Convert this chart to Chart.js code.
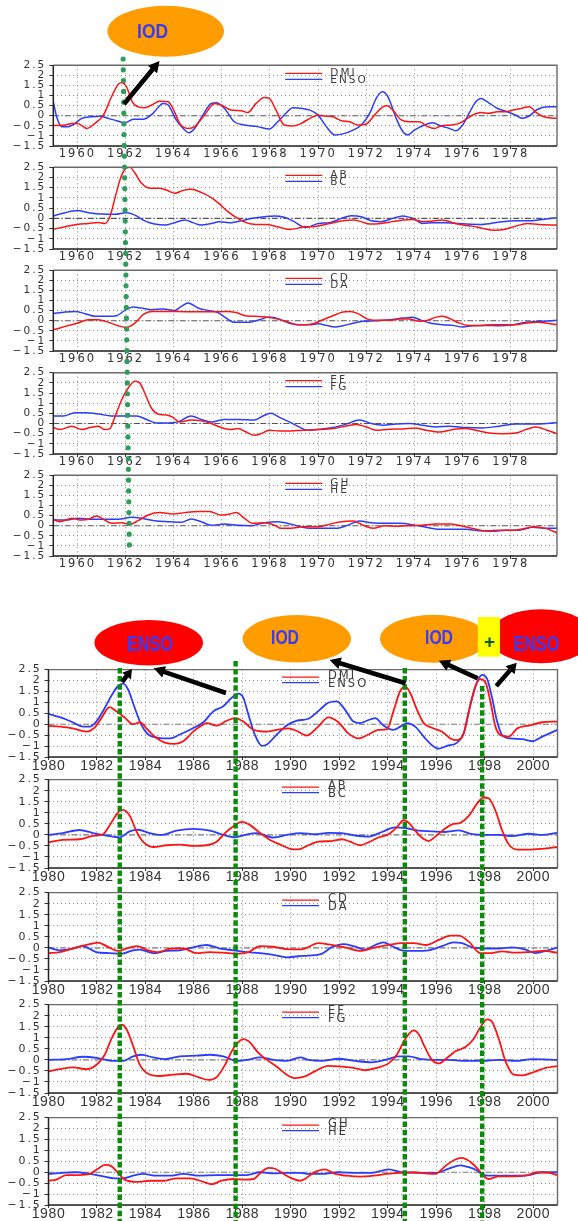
<!DOCTYPE html>
<html><head><meta charset="utf-8">
<script src="https://cdn.jsdelivr.net/npm/chart.js@4.4.1/dist/chart.umd.min.js"></script>
<style>
html,body{margin:0;padding:0;background:#fff;}
#fig{position:relative;width:578px;height:1221px;overflow:hidden;background:#fff;}
.pnl{position:absolute;left:0;width:578px;}
.pnl canvas{display:block;}
#ann{position:absolute;left:0;top:0;width:578px;height:1221px;pointer-events:none;}
</style></head>
<body><div id="fig"></div>
<script>
// ---------------- DATA: 1959-1979 (upper block) ----------------
const DMI_A = [[1959.0,-0.49],[1959.5,-0.46],[1959.77,-0.38],[1960.0,-0.38],[1960.4,-0.63],[1960.73,-0.38],[1961.08,0.03],[1961.42,0.94],[1961.7,1.56],[1961.86,1.63],[1962.04,1.43],[1962.28,0.69],[1962.52,0.44],[1962.8,0.40],[1963.08,0.53],[1963.42,0.72],[1963.77,0.69],[1964.0,0.28],[1964.25,-0.38],[1964.6,-0.63],[1964.87,-0.54],[1965.28,0.03],[1965.7,0.61],[1965.97,0.53],[1966.39,0.28],[1966.8,0.25],[1967.08,0.16],[1967.42,0.61],[1967.77,0.90],[1967.97,0.86],[1968.25,0.28],[1968.59,-0.46],[1968.94,-0.51],[1969.3,-0.38],[1969.66,-0.13],[1970.0,0.03],[1970.34,-0.02],[1970.62,-0.05],[1970.97,-0.25],[1971.31,-0.30],[1971.66,-0.46],[1972.0,-0.41],[1972.34,0.03],[1972.69,0.44],[1972.86,0.49],[1973.1,0.28],[1973.45,-0.21],[1973.79,-0.30],[1974.2,-0.30],[1974.55,-0.54],[1974.83,-0.63],[1975.1,-0.51],[1975.52,-0.46],[1975.86,-0.38],[1976.14,-0.18],[1976.41,0.03],[1976.76,0.16],[1977.1,0.12],[1977.45,0.20],[1977.79,0.20],[1978.1,0.28],[1978.41,0.36],[1978.76,0.44],[1979.1,0.12],[1979.45,-0.08],[1979.92,-0.13]];
const ENSO_A = [[1959.0,0.69],[1959.14,-0.05],[1959.35,-0.54],[1959.63,-0.54],[1959.9,-0.38],[1960.18,-0.13],[1960.6,-0.05],[1960.94,-0.02],[1961.28,-0.13],[1961.63,-0.25],[1961.97,-0.35],[1962.32,-0.18],[1962.73,-0.18],[1963.14,0.12],[1963.56,0.61],[1963.77,0.53],[1964.11,-0.21],[1964.46,-0.71],[1964.62,-0.84],[1964.87,-0.63],[1965.21,0.03],[1965.56,0.61],[1965.77,0.64],[1966.11,0.36],[1966.52,-0.30],[1966.94,-0.46],[1967.49,-0.54],[1967.97,-0.66],[1968.32,-0.30],[1968.66,0.12],[1968.94,0.40],[1969.35,0.36],[1969.66,0.28],[1970.0,0.03],[1970.34,-0.54],[1970.69,-0.95],[1971.03,-0.90],[1971.45,-0.71],[1971.79,-0.46],[1972.14,0.12],[1972.41,0.86],[1972.66,1.19],[1972.9,0.94],[1973.24,-0.13],[1973.52,-0.79],[1973.72,-0.95],[1974.0,-0.71],[1974.41,-0.46],[1974.76,-0.35],[1975.1,-0.51],[1975.45,-0.63],[1975.72,-0.74],[1976.0,-0.46],[1976.28,0.15],[1976.55,0.69],[1976.76,0.86],[1977.03,0.69],[1977.45,0.36],[1977.86,0.20],[1978.21,0.03],[1978.48,-0.13],[1978.76,-0.02],[1979.1,0.31],[1979.52,0.44],[1979.92,0.44]];
const AB_A = [[1959.0,-0.53],[1959.5,-0.41],[1960.0,-0.30],[1960.46,-0.25],[1960.87,-0.20],[1961.14,-0.25],[1961.35,0.08],[1961.56,0.99],[1961.77,1.89],[1961.97,2.39],[1962.18,2.50],[1962.39,2.22],[1962.66,1.73],[1963.01,1.48],[1963.42,1.48],[1963.77,1.35],[1964.04,1.23],[1964.39,1.37],[1964.73,1.43],[1965.14,1.27],[1965.56,1.02],[1965.9,0.71],[1966.25,0.33],[1966.66,0.0],[1967.01,-0.21],[1967.42,-0.30],[1967.83,-0.30],[1968.32,-0.41],[1968.8,-0.54],[1969.14,-0.49],[1969.42,-0.40],[1969.79,-0.41],[1970.2,-0.33],[1970.62,-0.21],[1971.03,-0.12],[1971.45,-0.08],[1971.79,-0.16],[1972.14,-0.28],[1972.62,-0.25],[1973.1,-0.16],[1973.52,-0.08],[1973.93,-0.05],[1974.34,-0.16],[1974.76,-0.13],[1975.17,-0.08],[1975.59,-0.21],[1976.0,-0.33],[1976.41,-0.38],[1976.83,-0.49],[1977.31,-0.58],[1977.72,-0.54],[1978.21,-0.38],[1978.69,-0.25],[1979.17,-0.30],[1979.92,-0.33]];
const BC_A = [[1959.0,0.12],[1959.5,0.28],[1960.0,0.38],[1960.46,0.28],[1961.01,0.21],[1961.56,0.20],[1962.04,0.28],[1962.39,0.16],[1962.8,-0.12],[1963.21,-0.28],[1963.63,-0.33],[1964.04,-0.21],[1964.46,-0.08],[1964.8,-0.21],[1965.14,-0.33],[1965.56,-0.25],[1965.9,-0.16],[1966.39,-0.21],[1966.8,-0.12],[1967.28,0.0],[1967.77,0.08],[1968.18,0.12],[1968.59,0.05],[1969.0,-0.16],[1969.35,-0.41],[1969.52,-0.44],[1970.0,-0.25],[1970.48,-0.21],[1970.97,0.0],[1971.38,0.13],[1971.79,0.08],[1972.21,-0.12],[1972.62,-0.16],[1973.1,0.0],[1973.52,0.12],[1973.93,0.0],[1974.34,-0.25],[1974.76,-0.21],[1975.24,-0.21],[1975.72,-0.25],[1976.14,-0.28],[1976.69,-0.30],[1977.17,-0.25],[1977.66,-0.16],[1978.21,-0.12],[1978.76,-0.12],[1979.31,-0.05],[1979.92,0.03]];
const CD_A = [[1959.0,-0.45],[1959.5,-0.28],[1960.0,-0.12],[1960.46,0.05],[1960.87,0.05],[1961.28,-0.08],[1961.7,-0.25],[1962.04,-0.33],[1962.39,-0.12],[1962.73,0.30],[1963.08,0.46],[1963.63,0.46],[1964.18,0.46],[1964.87,0.44],[1965.56,0.44],[1966.18,0.46],[1966.59,0.41],[1966.94,0.26],[1967.35,0.22],[1967.83,0.18],[1968.32,0.08],[1968.8,-0.08],[1969.14,-0.20],[1969.38,-0.20],[1969.79,-0.15],[1970.2,0.05],[1970.62,0.25],[1971.03,0.43],[1971.31,0.46],[1971.66,0.35],[1972.07,0.08],[1972.55,0.02],[1972.97,0.02],[1973.38,0.08],[1973.79,0.08],[1974.2,-0.03],[1974.55,0.02],[1974.9,0.18],[1975.17,0.22],[1975.52,0.08],[1975.86,-0.12],[1976.28,-0.23],[1976.76,-0.23],[1977.24,-0.20],[1977.66,-0.20],[1978.1,-0.20],[1978.62,-0.12],[1979.1,-0.08],[1979.52,-0.12],[1979.92,-0.20]];
const DA_A = [[1959.0,0.35],[1959.5,0.43],[1959.9,0.46],[1960.32,0.35],[1960.73,0.22],[1961.28,0.22],[1961.63,0.25],[1961.97,0.51],[1962.32,0.68],[1962.66,0.63],[1963.08,0.55],[1963.56,0.58],[1964.04,0.51],[1964.32,0.71],[1964.6,0.88],[1965.01,0.63],[1965.42,0.51],[1965.83,0.41],[1966.18,0.13],[1966.52,-0.08],[1967.08,-0.08],[1967.56,0.05],[1967.97,0.18],[1968.39,0.08],[1968.8,-0.12],[1969.28,-0.20],[1969.66,-0.20],[1970.0,-0.15],[1970.34,-0.23],[1970.69,-0.31],[1971.03,-0.25],[1971.45,-0.12],[1971.86,-0.03],[1972.41,0.0],[1972.97,0.05],[1973.52,0.13],[1973.93,0.17],[1974.28,0.02],[1974.69,-0.12],[1975.17,-0.20],[1975.59,-0.23],[1976.0,-0.31],[1976.41,-0.25],[1976.97,-0.23],[1977.52,-0.25],[1978.1,-0.20],[1978.62,-0.08],[1979.17,-0.03],[1979.92,0.02]];
const EF_A = [[1959.0,-0.20],[1959.28,-0.30],[1959.77,-0.13],[1960.18,-0.30],[1960.52,-0.20],[1960.87,-0.13],[1961.14,-0.30],[1961.35,-0.25],[1961.56,0.33],[1961.84,1.17],[1962.11,1.75],[1962.39,2.08],[1962.59,2.0],[1962.8,1.50],[1963.08,0.75],[1963.35,0.47],[1963.7,0.42],[1963.97,0.30],[1964.25,0.08],[1964.73,0.17],[1965.14,0.13],[1965.56,0.0],[1965.97,-0.20],[1966.39,-0.30],[1966.66,-0.25],[1967.01,-0.42],[1967.35,-0.58],[1967.63,-0.50],[1967.97,-0.33],[1968.39,-0.37],[1968.87,-0.37],[1969.35,-0.33],[1969.93,-0.30],[1970.62,-0.25],[1971.17,-0.12],[1971.59,-0.05],[1972.0,-0.17],[1972.41,-0.33],[1972.97,-0.28],[1973.52,-0.27],[1974.0,-0.22],[1974.48,-0.33],[1975.03,-0.42],[1975.59,-0.30],[1976.07,-0.25],[1976.55,-0.33],[1977.1,-0.47],[1977.66,-0.50],[1978.21,-0.47],[1978.62,-0.30],[1979.03,-0.17],[1979.52,-0.33],[1979.92,-0.50]];
const FG_A = [[1959.0,0.37],[1959.42,0.37],[1959.9,0.53],[1960.32,0.53],[1960.87,0.47],[1961.42,0.37],[1961.97,0.37],[1962.46,0.37],[1962.87,0.20],[1963.28,0.03],[1963.77,0.03],[1964.18,0.08],[1964.73,0.37],[1965.14,0.20],[1965.56,0.08],[1966.11,0.20],[1966.66,0.20],[1967.35,0.17],[1967.7,0.37],[1968.04,0.50],[1968.39,0.30],[1968.8,0.08],[1969.35,-0.25],[1969.52,-0.33],[1970.0,-0.30],[1970.62,-0.20],[1971.17,-0.03],[1971.72,0.17],[1972.21,0.0],[1972.69,-0.08],[1973.24,-0.03],[1973.79,0.0],[1974.34,-0.08],[1974.9,-0.17],[1975.45,-0.13],[1976.14,-0.20],[1976.83,-0.22],[1977.52,-0.13],[1978.21,-0.03],[1978.9,-0.03],[1979.52,0.0],[1979.92,0.05]];
const GH_A = [[1959.0,0.32],[1959.28,0.20],[1959.77,0.37],[1960.18,0.28],[1960.46,0.32],[1960.8,0.48],[1961.08,0.32],[1961.42,0.12],[1961.84,0.15],[1962.18,0.07],[1962.52,0.25],[1962.94,0.53],[1963.42,0.65],[1963.97,0.58],[1964.46,0.65],[1965.01,0.70],[1965.49,0.70],[1965.97,0.53],[1966.32,0.58],[1966.59,0.65],[1966.94,0.37],[1967.28,0.12],[1967.77,0.15],[1968.18,0.03],[1968.46,-0.13],[1968.87,-0.13],[1969.35,-0.05],[1970.0,-0.05],[1970.48,0.08],[1970.97,0.20],[1971.45,0.23],[1971.86,0.03],[1972.28,-0.13],[1972.76,0.0],[1973.31,-0.02],[1973.79,0.0],[1974.28,0.03],[1974.9,0.08],[1975.45,0.08],[1975.93,0.0],[1976.41,-0.13],[1976.97,-0.25],[1977.52,-0.22],[1978.1,-0.22],[1978.62,-0.13],[1978.97,-0.05],[1979.45,-0.13],[1979.92,-0.35]];
const HE_A = [[1959.0,0.28],[1959.5,0.28],[1960.04,0.37],[1960.6,0.32],[1961.14,0.32],[1961.7,0.32],[1962.25,0.42],[1962.66,0.37],[1963.21,0.25],[1963.77,0.20],[1964.32,0.17],[1964.73,0.33],[1965.14,0.20],[1965.56,0.03],[1966.11,0.08],[1966.66,0.02],[1967.21,0.0],[1967.77,0.15],[1968.32,0.20],[1968.87,0.08],[1969.35,-0.08],[1969.66,-0.13],[1970.2,-0.13],[1970.76,-0.13],[1971.24,0.03],[1971.72,0.23],[1972.21,0.15],[1972.76,0.12],[1973.38,0.12],[1974.0,0.03],[1974.48,-0.08],[1975.03,-0.18],[1975.59,-0.17],[1976.14,-0.18],[1976.69,-0.25],[1977.24,-0.27],[1977.79,-0.22],[1978.34,-0.22],[1978.9,-0.08],[1979.45,-0.13],[1979.92,-0.13]];

// ---------------- DATA: 1980-2001 (lower block) ----------------
const DMI_B = [[1980.0,-0.08],[1980.46,-0.11],[1981.0,-0.19],[1981.56,-0.34],[1981.9,-0.16],[1982.18,0.28],[1982.52,0.78],[1982.8,0.59],[1983.14,0.31],[1983.49,0.0],[1983.77,0.09],[1984.04,-0.19],[1984.39,-0.57],[1984.8,-0.84],[1985.21,-0.90],[1985.56,-0.78],[1985.97,-0.34],[1986.32,-0.06],[1986.52,0.05],[1986.94,-0.06],[1987.35,0.16],[1987.7,0.28],[1988.04,0.12],[1988.46,-0.26],[1989.01,-0.34],[1989.42,-0.26],[1989.9,-0.19],[1990.25,-0.31],[1990.65,-0.52],[1991.13,-0.11],[1991.54,0.31],[1991.96,0.09],[1992.37,-0.42],[1992.79,-0.65],[1993.2,-0.47],[1993.61,-0.26],[1993.97,-0.22],[1994.23,0.59],[1994.51,1.52],[1994.72,1.72],[1994.92,1.44],[1995.2,0.67],[1995.48,0.05],[1995.82,-0.16],[1996.24,-0.34],[1996.58,-0.65],[1996.86,-0.73],[1997.13,-0.42],[1997.34,0.59],[1997.61,1.75],[1997.82,2.06],[1998.03,1.91],[1998.23,1.05],[1998.44,-0.11],[1998.65,-0.50],[1998.99,-0.57],[1999.34,-0.19],[1999.82,-0.06],[2000.37,0.09],[2001.0,0.12]];
const ENSO_B = [[1980.0,0.47],[1980.59,0.28],[1981.0,0.09],[1981.42,-0.11],[1981.7,-0.11],[1981.97,0.12],[1982.32,0.74],[1982.59,1.29],[1982.87,1.75],[1983.08,1.86],[1983.28,1.60],[1983.56,0.74],[1983.83,-0.03],[1984.11,-0.47],[1984.52,-0.62],[1985.01,-0.65],[1985.42,-0.47],[1985.9,-0.22],[1986.39,0.09],[1986.8,0.59],[1987.21,0.82],[1987.56,1.21],[1987.83,1.40],[1988.04,1.21],[1988.25,0.43],[1988.52,-0.50],[1988.8,-0.99],[1989.01,-0.93],[1989.42,-0.47],[1989.83,-0.06],[1990.25,0.16],[1990.72,0.25],[1991.2,0.67],[1991.54,0.98],[1991.89,1.05],[1992.23,0.67],[1992.58,0.12],[1992.86,0.05],[1993.13,0.16],[1993.48,0.28],[1993.82,-0.06],[1994.23,-0.26],[1994.51,-0.11],[1994.79,0.05],[1995.13,-0.11],[1995.48,-0.57],[1995.82,-0.96],[1996.1,-1.12],[1996.44,-0.99],[1996.86,-0.84],[1997.13,-0.42],[1997.41,0.90],[1997.68,1.91],[1997.89,2.26],[1998.1,2.06],[1998.3,1.21],[1998.51,0.12],[1998.72,-0.50],[1999.06,-0.65],[1999.54,-0.68],[1999.96,-0.78],[2000.37,-0.57],[2001.0,-0.26]];
const AB_B = [[1980.0,-0.34],[1980.59,-0.23],[1981.28,-0.20],[1981.83,-0.05],[1982.25,0.03],[1982.59,0.55],[1982.87,1.02],[1983.08,1.13],[1983.35,0.86],[1983.63,0.16],[1983.9,-0.31],[1984.32,-0.55],[1984.87,-0.47],[1985.42,-0.44],[1985.97,-0.50],[1986.52,-0.47],[1986.94,-0.31],[1987.28,0.08],[1987.63,0.39],[1987.97,0.59],[1988.32,0.44],[1988.73,0.08],[1989.14,-0.23],[1989.56,-0.44],[1989.97,-0.63],[1990.3,-0.66],[1990.72,-0.47],[1991.13,-0.31],[1991.68,-0.28],[1992.1,-0.20],[1992.44,-0.31],[1992.86,-0.47],[1993.2,-0.34],[1993.61,-0.12],[1994.03,0.03],[1994.37,0.34],[1994.65,0.66],[1994.86,0.55],[1995.13,0.19],[1995.48,-0.19],[1995.68,-0.28],[1995.96,-0.08],[1996.3,0.23],[1996.65,0.47],[1997.0,0.55],[1997.34,0.86],[1997.68,1.41],[1997.96,1.69],[1998.17,1.64],[1998.44,1.09],[1998.72,0.19],[1998.99,-0.44],[1999.34,-0.67],[1999.82,-0.67],[2000.37,-0.63],[2001.0,-0.55]];
const BC_B = [[1980.0,0.0],[1980.59,0.08],[1981.28,0.22],[1981.83,0.08],[1982.39,-0.03],[1982.94,-0.11],[1983.35,0.16],[1983.7,0.23],[1984.18,0.08],[1984.66,0.0],[1985.28,0.19],[1985.97,0.27],[1986.66,0.19],[1987.21,0.0],[1987.7,-0.11],[1988.11,0.0],[1988.59,0.08],[1989.28,-0.12],[1989.83,0.0],[1990.39,0.08],[1990.99,0.03],[1991.54,0.09],[1992.1,0.08],[1992.65,-0.03],[1993.2,-0.08],[1993.75,0.13],[1994.3,0.34],[1994.72,0.31],[1995.27,0.19],[1995.82,0.16],[1996.37,0.13],[1996.92,0.20],[1997.48,0.03],[1998.03,0.0],[1998.58,0.0],[1999.13,-0.06],[1999.82,0.05],[2000.37,0.0],[2001.0,0.09]];
const CD_B = [[1980.0,-0.24],[1980.46,-0.19],[1981.0,-0.03],[1981.56,0.13],[1982.04,0.24],[1982.39,0.08],[1982.87,-0.14],[1983.21,-0.03],[1983.63,0.08],[1984.11,-0.11],[1984.52,-0.19],[1985.08,-0.03],[1985.56,-0.03],[1986.11,-0.24],[1986.66,-0.19],[1987.21,-0.22],[1987.77,-0.27],[1988.25,-0.19],[1988.73,0.08],[1989.28,0.05],[1989.83,-0.06],[1990.3,-0.07],[1990.58,-0.03],[1991.13,0.21],[1991.68,0.13],[1992.23,0.02],[1992.86,-0.14],[1993.48,0.02],[1994.03,0.13],[1994.58,0.21],[1995.06,0.21],[1995.61,0.13],[1996.1,0.36],[1996.58,0.55],[1996.92,0.55],[1997.34,0.28],[1997.82,-0.24],[1998.17,-0.24],[1998.72,-0.16],[1999.27,-0.22],[1999.82,-0.19],[2000.37,-0.14],[2001.0,-0.22]];
const DA_B = [[1980.0,0.02],[1980.46,-0.11],[1981.0,-0.03],[1981.42,0.08],[1981.97,-0.19],[1982.52,-0.24],[1983.01,-0.27],[1983.49,-0.11],[1983.77,-0.08],[1984.32,-0.24],[1984.87,-0.14],[1985.42,-0.11],[1985.97,0.02],[1986.52,0.13],[1987.08,-0.03],[1987.63,-0.11],[1988.18,-0.19],[1988.73,-0.24],[1989.28,-0.32],[1989.83,-0.43],[1990.3,-0.38],[1990.72,-0.35],[1991.27,-0.27],[1991.68,0.02],[1992.17,0.17],[1992.58,0.08],[1993.06,-0.08],[1993.48,0.13],[1993.82,0.25],[1994.17,0.08],[1994.58,-0.11],[1995.13,-0.14],[1995.68,-0.11],[1996.24,0.08],[1996.72,0.25],[1997.06,0.21],[1997.48,0.02],[1998.03,-0.03],[1998.58,-0.03],[1999.13,0.02],[1999.68,-0.08],[2000.1,-0.24],[2000.51,-0.14],[2001.0,0.02]];
const EF_B = [[1980.0,-0.52],[1980.46,-0.42],[1981.0,-0.34],[1981.56,-0.42],[1981.97,-0.23],[1982.32,0.23],[1982.59,0.94],[1982.87,1.48],[1983.01,1.59],[1983.21,1.41],[1983.49,0.63],[1983.77,-0.23],[1984.11,-0.63],[1984.59,-0.73],[1985.14,-0.67],[1985.7,-0.63],[1986.18,-0.78],[1986.59,-0.91],[1986.94,-0.78],[1987.28,-0.23],[1987.56,0.39],[1987.77,0.73],[1988.04,0.94],[1988.32,0.78],[1988.66,0.31],[1989.01,0.0],[1989.42,-0.31],[1989.83,-0.67],[1990.18,-0.83],[1990.58,-0.75],[1990.99,-0.52],[1991.54,-0.27],[1992.1,-0.31],[1992.58,-0.36],[1993.06,-0.47],[1993.54,-0.36],[1994.03,-0.16],[1994.37,0.23],[1994.72,0.94],[1995.06,1.33],[1995.27,1.17],[1995.54,0.55],[1995.82,0.0],[1996.1,-0.16],[1996.44,0.08],[1996.79,0.39],[1997.2,0.58],[1997.54,0.94],[1997.82,1.48],[1998.1,1.83],[1998.3,1.72],[1998.58,0.94],[1998.86,-0.08],[1999.2,-0.67],[1999.54,-0.70],[2000.03,-0.55],[2000.51,-0.36],[2001.0,-0.28]];
const FG_B = [[1980.0,0.0],[1980.73,0.03],[1981.42,0.14],[1982.04,0.08],[1982.66,-0.05],[1983.08,-0.05],[1983.49,0.16],[1983.83,0.23],[1984.32,0.11],[1984.8,0.03],[1985.42,0.16],[1986.11,0.19],[1986.66,0.23],[1987.21,0.16],[1987.77,-0.05],[1988.18,0.0],[1988.73,0.11],[1989.28,0.0],[1989.83,-0.05],[1990.39,0.11],[1990.72,0.0],[1991.27,-0.05],[1991.96,0.05],[1992.65,-0.05],[1993.34,-0.11],[1993.89,0.0],[1994.44,0.16],[1994.86,0.16],[1995.41,0.03],[1995.96,0.0],[1996.51,0.0],[1997.2,-0.05],[1997.89,-0.05],[1998.58,0.0],[1999.27,-0.05],[1999.96,0.03],[2001.0,0.0]];
const GH_B = [[1980.0,-0.39],[1980.32,-0.34],[1980.73,-0.13],[1981.28,-0.13],[1981.7,-0.08],[1982.04,0.16],[1982.32,0.34],[1982.59,0.28],[1982.87,-0.03],[1983.14,-0.34],[1983.63,-0.44],[1984.18,-0.39],[1984.73,-0.39],[1985.28,-0.28],[1985.83,-0.28],[1986.39,-0.44],[1986.73,-0.55],[1987.14,-0.39],[1987.63,-0.31],[1988.11,-0.34],[1988.46,-0.31],[1988.8,0.03],[1989.08,0.20],[1989.35,0.16],[1989.7,-0.08],[1990.04,-0.28],[1990.39,-0.39],[1990.6,-0.30],[1990.92,-0.03],[1991.41,0.13],[1991.82,-0.08],[1992.3,-0.16],[1992.86,-0.20],[1993.41,-0.16],[1993.96,-0.08],[1994.51,-0.03],[1995.06,0.0],[1995.54,-0.05],[1995.96,-0.08],[1996.37,0.28],[1996.72,0.55],[1997.06,0.66],[1997.41,0.47],[1997.68,0.19],[1997.89,-0.08],[1998.17,-0.31],[1998.58,-0.19],[1999.13,-0.19],[1999.68,-0.16],[2000.17,0.0],[2000.65,-0.03],[2001.0,-0.13]];
const HE_B = [[1980.0,-0.08],[1980.59,-0.03],[1981.14,0.0],[1981.7,-0.08],[1982.25,-0.19],[1982.73,-0.28],[1983.08,-0.28],[1983.49,-0.16],[1983.9,-0.08],[1984.46,-0.16],[1985.01,-0.16],[1985.56,-0.08],[1986.25,-0.16],[1986.94,-0.13],[1987.63,-0.13],[1988.18,-0.13],[1988.73,0.0],[1989.28,-0.05],[1989.83,-0.03],[1990.39,-0.03],[1990.72,-0.08],[1991.27,-0.08],[1991.96,0.0],[1992.65,-0.03],[1993.34,-0.03],[1994.03,0.13],[1994.58,0.0],[1995.27,-0.03],[1995.96,-0.03],[1996.51,0.16],[1996.99,0.31],[1997.34,0.23],[1997.68,0.08],[1997.96,-0.13],[1998.44,-0.16],[1999.13,-0.16],[1999.82,-0.13],[2000.37,0.0],[2001.0,0.0]];

// ---------------- labels / ticks ----------------
const seriesNames = [["DMI","ENSO"],["AB","BC"],["CD","DA"],["EF","FG"],["GH","HE"]];
const topSeries = [[DMI_A,ENSO_A],[AB_A,BC_A],[CD_A,DA_A],[EF_A,FG_A],[GH_A,HE_A]];
const botSeries = [[DMI_B,ENSO_B],[AB_B,BC_B],[CD_B,DA_B],[EF_B,FG_B],[GH_B,HE_B]];
const topYearTicks = [1960,1962,1964,1966,1968,1970,1972,1974,1976,1978];
const botYearTicks = [1980,1982,1984,1986,1988,1990,1992,1994,1996,1998,2000];
const yTickValues = [-1.5,-1,-0.5,0,0.5,1,1.5,2,2.5];
const topRange = [1959, 1979.92];
const botRange = [1980, 2001];
const topEvent = [1961.9, 1962.16];            // slanted dotted marker (top, bottom)
const botEvents = [1982.94, 1987.72, 1994.7, 1997.89];
const bubbleTexts = ["IOD","ENSO","IOD","IOD","ENSO"];

// ---------------- styling / layout ----------------
const RED = '#ff1414', BLUE = '#2b3cff', GRID = '#8c8c8c';
const TOP_CFG = {tops:[65,167.3,270,372.7,475], h:81, left:53.3, right:557, range:topRange, years:topYearTicks, labH:20,
  xFont:{family:'"DejaVu Sans"', size:11.5, lineHeight:1}, yFont:{family:'"DejaVu Sans"', size:10.5}, xLS:'2px', yLS:'2px', xPad:-0.5, yPad:3,
  lw:1.5, lgFont:'10.5px "DejaVu Sans"', lgLS:'2px', lg:{x0:232, len:37, tx:277, ly:[8,14], ty:[7.5,14.5]}, zero:'#555'};
const BOT_CFG = {tops:[669,779.5,892.5,1004.5,1117], h:88, left:48.5, right:557.5, range:botRange, years:botYearTicks, labH:20,
  xFont:{family:'"Liberation Sans Narrow","Liberation Sans"', size:14, lineHeight:1}, yFont:{family:'"DejaVu Sans"', size:11}, xLS:'0.6px', yLS:'1.8px', xPad:-1, yPad:3,
  lw:1.8, lgFont:'11.5px "DejaVu Sans"', lgLS:'2px', lg:{x0:233.5, len:37, tx:279.5, ly:[7.5,13], ty:[6.5,14.5]}, zero:'#777'};

const fig = document.getElementById('fig');
const fmtY = v => v < 0 ? '\u2212' + String(Math.abs(v)) : String(v);

function makePanel(cfg, idx, pair, names){
  const T = cfg.tops[idx];
  const divTop = Math.floor(T) - 9;
  const padTop = T - divTop;
  const H = Math.ceil(padTop + cfg.h + cfg.labH);
  const div = document.createElement('div');
  div.className = 'pnl'; div.style.top = divTop + 'px'; div.style.height = H + 'px';
  const cv = document.createElement('canvas');
  cv.width = 578; cv.height = H; cv.style.width = '578px'; cv.style.height = H + 'px';
  div.appendChild(cv); fig.appendChild(div);

  const lsPlugin = {id:'ls'+idx, beforeDraw(chart){
    [['x',cfg.xLS],['y',cfg.yLS]].forEach(([id,val])=>{
      const s = chart.scales[id];
      if (!s || s.$lsw) return;
      const orig = s.drawLabels;
      s.drawLabels = function(ca){ const c=this.ctx; const p=c.letterSpacing; c.letterSpacing=val; orig.call(this,ca); c.letterSpacing=p; };
      s.$lsw = true;
    });
  }};
  const decoPlugin = {id:'deco'+idx,
    beforeDatasetsDraw(chart){
      const ctx = chart.ctx, a = chart.chartArea, y0 = chart.scales.y.getPixelForValue(0);
      ctx.save(); ctx.strokeStyle = cfg.zero; ctx.lineWidth = 1.2; ctx.setLineDash([6,2,1.5,2]);
      ctx.beginPath(); ctx.moveTo(a.left, y0); ctx.lineTo(a.right, y0); ctx.stroke(); ctx.restore();
    },
    afterDatasetsDraw(chart){
      const ctx = chart.ctx, a = chart.chartArea, g = cfg.lg;
      ctx.save();
      ctx.lineWidth = 1.4; ctx.strokeStyle = '#6a6a6a';
      ctx.beginPath(); ctx.moveTo(a.left, a.top); ctx.lineTo(a.right, a.top); ctx.lineTo(a.right, a.bottom); ctx.stroke();
      ctx.strokeStyle = '#222'; ctx.lineWidth = 1.5;
      ctx.beginPath(); ctx.moveTo(a.left, a.top); ctx.lineTo(a.left, a.bottom); ctx.lineTo(a.right, a.bottom); ctx.stroke();
      chart.data.datasets.forEach((ds,i)=>{
        const yl = a.top + g.ly[i];
        ctx.strokeStyle = ds.borderColor; ctx.lineWidth = 1.3;
        ctx.beginPath(); ctx.moveTo(a.left + g.x0, yl); ctx.lineTo(a.left + g.x0 + g.len, yl); ctx.stroke();
      });
      ctx.font = cfg.lgFont; ctx.letterSpacing = cfg.lgLS; ctx.fillStyle = '#3a3a3a'; ctx.textBaseline = 'middle'; ctx.textAlign = 'left';
      chart.data.datasets.forEach((ds,i)=>{ ctx.fillText(ds.label, a.left + g.tx, a.top + g.ty[i]); });
      ctx.restore();
    }};

  return new Chart(cv, {
    type:'line',
    data:{datasets:[
      {label:names[0], data:pair[0].map(p=>({x:p[0], y:p[1]})), borderColor:RED, borderWidth:cfg.lw},
      {label:names[1], data:pair[1].map(p=>({x:p[0], y:p[1]})), borderColor:BLUE, borderWidth:cfg.lw}
    ]},
    options:{
      responsive:false, animation:false, events:[],
      layout:{padding:{left:0, right:578 - cfg.right, top:padTop, bottom:0}},
      elements:{point:{radius:0}, line:{cubicInterpolationMode:'monotone', fill:false}},
      plugins:{legend:{display:false}, tooltip:{enabled:false}},
      scales:{
        x:{type:'linear', min:cfg.range[0], max:cfg.range[1],
          afterFit:s=>{ s.height = cfg.labH; },
          afterBuildTicks:s=>{ s.ticks = cfg.years.map(v=>({value:v})); },
          ticks:{callback:v=>String(v), font:cfg.xFont, color:'#333', padding:cfg.xPad, autoSkip:false, maxRotation:0, minRotation:0},
          grid:{color:GRID, lineWidth:1, drawTicks:true, tickLength:3, tickColor:'#333', tickWidth:1, tickBorderDash:[]},
          border:{display:false, dash:[1,3]}},
        y:{type:'linear', min:-1.5, max:2.5,
          afterFit:s=>{ s.width = cfg.left; },
          afterBuildTicks:s=>{ s.ticks = yTickValues.map(v=>({value:v})); },
          ticks:{callback:fmtY, font:cfg.yFont, color:'#333', padding:cfg.yPad, autoSkip:false},
          grid:{color:c=> (c.tick && c.tick.value===0) ? 'rgba(0,0,0,0)' : GRID, lineWidth:1, drawTicks:true, tickLength:4, tickColor:'#333', tickWidth:1, tickBorderDash:[]},
          border:{display:false, dash:[1,3]}}
      }
    },
    plugins:[lsPlugin, decoPlugin]
  });
}

const topCharts = topSeries.map((p,i)=>makePanel(TOP_CFG, i, p, seriesNames[i]));
const botCharts = botSeries.map((p,i)=>makePanel(BOT_CFG, i, p, seriesNames[i]));

// ---------------- annotations (overlay) ----------------
const xT = v => topCharts[0].scales.x.getPixelForValue(v);
const xB = v => botCharts[0].scales.x.getPixelForValue(v);

function arrow(x1,y1,x2,y2,w,hl,hw){
  const dx=x2-x1, dy=y2-y1, L=Math.hypot(dx,dy), ux=dx/L, uy=dy/L, px=-uy, py=ux;
  const bx=x2-ux*hl, by=y2-uy*hl;
  const pts=[[x1+px*w/2,y1+py*w/2],[bx+px*w/2,by+py*w/2],[bx+px*hw/2,by+py*hw/2],[x2,y2],
             [bx-px*hw/2,by-py*hw/2],[bx-px*w/2,by-py*w/2],[x1-px*w/2,y1-py*w/2]];
  return '<polygon fill="#000" points="'+pts.map(p=>p[0].toFixed(1)+','+p[1].toFixed(1)).join(' ')+'"/>';
}
const ORANGE = '#ff9c00', REDF = '#ff0000', TXT = '#3b3bf2';
const bubbles = [
  {cx:165.7, cy:31.3, rx:58.3, ry:25.5, fill:ORANGE, tx:152.6, ty:30, tl:31, fs:21},
  {cx:148.7, cy:642.8, rx:54.3, ry:22.8, fill:REDF, tx:150, ty:643.5, tl:46, fs:22},
  {cx:296.8, cy:638.8, rx:54.2, ry:23.8, fill:ORANGE, tx:285, ty:636.5, tl:28, fs:20},
  {cx:433.5, cy:638.8, rx:53.5, ry:24, fill:ORANGE, tx:439, ty:636.5, tl:28, fs:20},
  {cx:541, cy:636.3, rx:52, ry:27, fill:REDF, tx:536.3, ty:643.5, tl:46, fs:22}
];
let s = '';
s += '<line x1="'+xT(topEvent[0])+'" y1="59" x2="'+xT(topEvent[1])+'" y2="547" stroke="#2e9d5c" stroke-width="5.2" stroke-linecap="round" stroke-dasharray="0 10.8"/>';
const evTop = [668, 661, 668, 686];
botEvents.forEach((e,i)=>{
  const x = xB(e);
  s += '<line x1="'+x+'" y1="'+evTop[i]+'" x2="'+x+'" y2="1221" stroke="#0b8a0b" stroke-width="4.4" stroke-dasharray="5.5 2.6"/>';
});
bubbles.forEach(b=>{ s += '<ellipse cx="'+b.cx+'" cy="'+b.cy+'" rx="'+b.rx+'" ry="'+b.ry+'" fill="'+b.fill+'"/>'; });
s += '<rect x="477.8" y="617" width="22.2" height="39.7" fill="#ffff00"/>';
s += '<text x="489.6" y="641" text-anchor="middle" dominant-baseline="central" font-family="Liberation Sans, Arial, sans-serif" font-weight="bold" font-size="19" fill="#0a5a14">+</text>';
bubbles.forEach((b,i)=>{
  s += '<text x="'+b.tx+'" y="'+b.ty+'" text-anchor="middle" dominant-baseline="central" font-family="Liberation Sans, Arial, sans-serif" font-weight="bold" font-size="'+b.fs+'" textLength="'+b.tl+'" lengthAdjust="spacingAndGlyphs" fill="'+TXT+'">'+bubbleTexts[i]+'</text>';
});
s += arrow(124,104,159.5,61,4.6,11,12);
s += arrow(122,682,132,669,4.6,9,11);
s += arrow(226,693,153.7,668.3,4.6,11,12);
s += arrow(405.6,683.3,329.6,660,4.6,11,12);
s += arrow(477.8,678.3,438.9,660.7,4.6,11,12);
s += arrow(496.3,686,516.7,662.7,4.6,10,12);
const svg = document.createElementNS('http://www.w3.org/2000/svg','svg');
svg.setAttribute('id','ann'); svg.setAttribute('width','578'); svg.setAttribute('height','1221'); svg.setAttribute('viewBox','0 0 578 1221');
svg.innerHTML = s;
fig.appendChild(svg);
</script>
</body></html>
